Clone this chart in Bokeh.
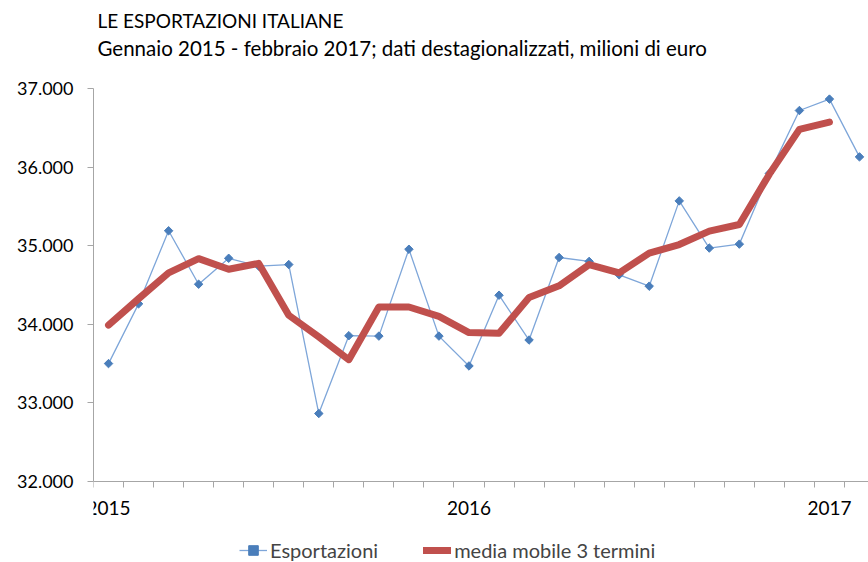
import math
from bokeh.plotting import figure
from bokeh.models import Range1d, FixedTicker, Label, Legend, LegendItem
from bokeh.embed import file_html
from bokeh.resources import INLINE

# Months: index 0 = Jan 2015 ... 25 = Feb 2017
months = list(range(26))
esportazioni = [33500, 34260, 35190, 34510, 34840, 34740, 34760, 32865, 33855, 33850, 34955, 33850,
                33470, 34370, 33800, 34850, 34800, 34630, 34485, 35570, 34970, 35020, 35920, 36720,
                36865, 36130]
months_mm = list(range(25))
media_mobile = [33990, 34325, 34655, 34835, 34700, 34775, 34115, 33840, 33550, 34220, 34220, 34100,
                33895, 33885, 34340, 34490, 34760, 34655, 34905, 35015, 35185, 35270, 35910, 36480,
                36572]
year_ticks = [0, 12, 24]
year_labels = ["2015", "2016", "2017"]
y_ticks = [32000, 33000, 34000, 35000, 36000, 37000]
y_labels = ["32.000", "33.000", "34.000", "35.000", "36.000", "37.000"]
title_text = "LE ESPORTAZIONI ITALIANE"
subtitle_text = "Gennaio 2015 - febbraio 2017; dati destagionalizzati, milioni di euro"

FONT = "Lato"

# frame geometry (pixels): the frame covers the full canvas height
FRAME_W, FRAME_H = 775, 562
X0, X1 = -0.5, 25.3
Y_AXIS_MIN, Y_AXIS_MAX = 32000, 37000
TOP_PX, BOTTOM_PX = 88, 481  # pixel rows of 37.000 and 32.000
PX_PER_UNIT = (BOTTOM_PX - TOP_PX) / (Y_AXIS_MAX - Y_AXIS_MIN)
Y1 = Y_AXIS_MAX + TOP_PX / PX_PER_UNIT
Y0 = Y_AXIS_MIN - (FRAME_H - BOTTOM_PX) / PX_PER_UNIT


def px_x(px):
    return X0 + (px - 93) * (X1 - X0) / FRAME_W


def px_y(py):
    return Y1 - py / PX_PER_UNIT


p = figure(frame_width=FRAME_W, frame_height=FRAME_H, output_backend="svg", toolbar_location=None,
           x_range=Range1d(X0, X1), y_range=Range1d(Y0, Y1),
           min_border_left=93, min_border_right=0, min_border_top=0, min_border_bottom=0)
p.outline_line_color = None
p.xgrid.visible = False
p.ygrid.visible = False
p.background_fill_color = "white"
p.border_fill_color = "white"

blue_line = p.line(months, esportazioni, line_color="#7EA6D9", line_width=1.3)
blue_pts = p.scatter(months, esportazioni, marker="square", angle=math.pi / 4, size=6,
                     fill_color="#4A7EBB", line_color="#4A7EBB")
red_line = p.line(months_mm, media_mobile, line_color="#C0504D", line_width=7,
                  line_cap="round", line_join="round")

# x axis, drawn at the 32.000 level
xa = p.xaxis[0]
xa.fixed_location = Y_AXIS_MIN
xa.ticker = FixedTicker(ticks=year_ticks, minor_ticks=[m - 0.5 for m in range(27)])
xa.major_label_overrides = dict(zip(year_ticks, year_labels))
xa.major_tick_out = 0
xa.major_tick_in = 0
xa.minor_tick_out = 6
xa.minor_tick_in = 0
xa.axis_line_color = "#A6A6A6"
xa.minor_tick_line_color = "#A6A6A6"
xa.major_label_text_font = FONT
xa.major_label_text_font_size = "19px"
xa.major_label_text_color = "#000000"
xa.major_label_standoff = 13

# y axis
ya = p.yaxis[0]
ya.ticker = FixedTicker(ticks=y_ticks, minor_ticks=[])
ya.major_label_overrides = dict(zip(y_ticks, y_labels))
ya.bounds = (Y_AXIS_MIN, Y_AXIS_MAX)
ya.major_tick_out = 6
ya.major_tick_in = 0
ya.minor_tick_out = 0
ya.axis_line_color = "#A6A6A6"
ya.major_tick_line_color = "#A6A6A6"
ya.major_label_text_font = FONT
ya.major_label_text_font_size = "18px"
ya.major_label_text_color = "#000000"
ya.major_label_standoff = 14

legend = Legend(items=[LegendItem(label="Esportazioni", renderers=[blue_line, blue_pts]),
                       LegendItem(label="media mobile 3 termini", renderers=[red_line])],
                orientation="horizontal", location=(146, 0),
                border_line_color=None, background_fill_alpha=0,
                label_text_font=FONT, label_text_font_size="20px",
                glyph_width=28, glyph_height=24, label_height=24, spacing=45, padding=0, margin=0,
                label_standoff=3)
p.add_layout(legend, "center")

p.add_layout(Label(x=px_x(97), y=px_y(20), text=title_text, text_font=FONT,
                   text_font_size="19px", text_baseline="middle", text_align="left",
                   text_color="#000000"))
p.add_layout(Label(x=px_x(97), y=px_y(47), text=subtitle_text, text_font=FONT,
                   text_font_size="20.5px", text_baseline="middle", text_align="left",
                   text_color="#000000"))

open("out.html", "w").write(file_html(p, INLINE))
